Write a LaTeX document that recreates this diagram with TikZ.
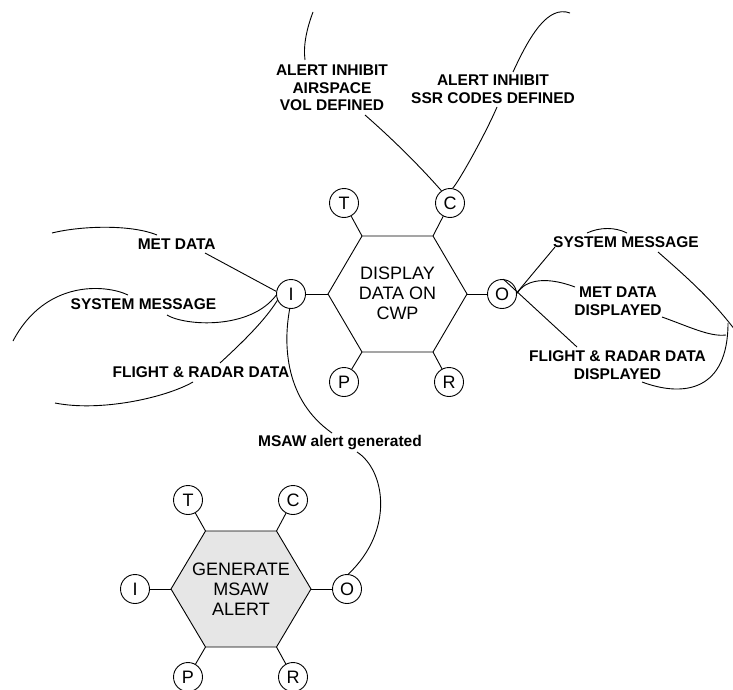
\documentclass[tikz,border=0pt]{standalone}
\usepackage{fontspec}
\setmainfont{Liberation Sans}
\definecolor{hexfill}{RGB}{230,230,230}
\begin{document}
\begin{tikzpicture}[x=1pt,y=-1pt,
  ln/.style={line width=0.9pt},
  circ/.style={circle,draw,line width=0.9pt,minimum size=29pt,inner sep=0pt,font=\fontsize{18}{20}\selectfont},
  hexline/.style={draw,line width=0.9pt},
  hextxt/.style={align=center,inner sep=0pt,font=\fontsize{18}{20}\selectfont},
  lbl/.style={align=center,inner sep=0pt,font=\fontsize{15.5}{17.5}\selectfont\bfseries}]
\clip (0,0) rectangle (733,690);
\fill[white] (0,0) rectangle (733,690);

% ---------- top hexagon ----------
\coordinate (h1l) at (328,294);
\coordinate (h1tl) at (362,236);
\coordinate (h1tr) at (433,236);
\coordinate (h1r) at (467,294);
\coordinate (h1br) at (433,352);
\coordinate (h1bl) at (362,352);
\draw[hexline] (h1l) -- (h1tl) -- (h1tr) -- (h1r) -- (h1br) -- (h1bl) -- cycle;
\node[hextxt] (h1) at (397.5,293) {DISPLAY\\DATA ON\\CWP};

\node[circ] (t1) at (344,203) {T};
\node[circ] (c1) at (450,203) {C};
\node[circ] (i1) at (291,294) {I};
\node[circ] (o1) at (502,294) {O};
\node[circ] (p1) at (344,382) {P};
\node[circ] (r1) at (449,382) {R};
\draw[ln] (t1) -- (h1tl);
\draw[ln] (c1) -- (h1tr);
\draw[ln] (i1) -- (h1l);
\draw[ln] (o1) -- (h1r);
\draw[ln] (p1) -- (h1bl);
\draw[ln] (r1) -- (h1br);

% ---------- bottom hexagon ----------
\coordinate (h2l) at (171,589);
\coordinate (h2tl) at (205.5,531);
\coordinate (h2tr) at (276.5,531);
\coordinate (h2r) at (311,589);
\coordinate (h2br) at (276.5,647);
\coordinate (h2bl) at (205.5,647);
\draw[hexline,fill=hexfill] (h2l) -- (h2tl) -- (h2tr) -- (h2r) -- (h2br) -- (h2bl) -- cycle;
\node[hextxt] (h2) at (241,589) {GENERATE\\MSAW\\ALERT};

\node[circ] (t2) at (188,500) {T};
\node[circ] (c2) at (293,500) {C};
\node[circ] (i2) at (135,589) {I};
\node[circ] (o2) at (347,589) {O};
\node[circ] (p2) at (188,677) {P};
\node[circ] (r2) at (293,677) {R};
\draw[ln] (t2) -- (h2tl);
\draw[ln] (c2) -- (h2tr);
\draw[ln] (i2) -- (h2l);
\draw[ln] (o2) -- (h2r);
\draw[ln] (p2) -- (h2bl);
\draw[ln] (r2) -- (h2br);

% ---------- labels ----------
\node[lbl] (laav) at (332,88) {ALERT INHIBIT\\AIRSPACE\\VOL DEFINED};
\node[lbl] (lssr) at (493,89) {ALERT INHIBIT\\SSR CODES DEFINED};
\node[lbl] (lmet) at (176.7,244) {MET DATA};
\node[lbl] (lsysl) at (143.5,304) {SYSTEM MESSAGE};
\node[lbl] (lfrl) at (201,372) {FLIGHT \& RADAR DATA};
\node[lbl] (lsysr) at (626,242) {SYSTEM MESSAGE};
\node[lbl] (lmetd) at (618,301) {MET DATA\\DISPLAYED};
\node[lbl] (lfrd) at (617.5,365) {FLIGHT \& RADAR DATA\\DISPLAYED};
\node[lbl] (lmsaw) at (340,443) {MSAW alert generated};

% ---------- free ends ----------
\coordinate (aavb) at (365,115);
\coordinate (aavt1) at (305,60);
\coordinate (aavt2) at (313,12);
\coordinate (ssrb) at (497,107);
\coordinate (ssrt1) at (513,72);
\coordinate (ssrt2) at (570,13);
\coordinate (metr) at (205,253);
\coordinate (meta1) at (52,233);
\coordinate (meta2) at (157,235);
\coordinate (sysl1) at (167,315);
\coordinate (sysa1) at (128,295);
\coordinate (sysa2) at (13,341);
\coordinate (frl1) at (220,363);
\coordinate (frl2) at (193,382);
\coordinate (frl3) at (55,403);
\coordinate (msaw1) at (332,433);
\coordinate (msaw2) at (357,452);
\coordinate (sysr1) at (555,247);
\coordinate (sysr2) at (587,233);
\coordinate (sysr3) at (627,233);
\coordinate (sysr4) at (658,252);
\coordinate (sysr5) at (735,330);
\coordinate (metd1) at (575,287);
\coordinate (metd2) at (662,317);
\coordinate (metd3) at (726,335);
\coordinate (frd1) at (577,347);
\coordinate (frd2) at (642,382);
\coordinate (frd3) at (728,323);

% ---------- connectors ----------
% C top
\draw[ln] (c1.125) .. controls (432,180) and (405,150) .. (aavb);
\draw[ln] (aavt1) .. controls (303,45) and (307,28) .. (aavt2);
\draw[ln] (c1.80) .. controls (458,183) and (485,135) .. (ssrb);
\draw[ln] (ssrt1) .. controls (530,35) and (548,5) .. (ssrt2);
% I left
\draw[ln] (i1.170) -- (metr);
\draw[ln] (meta1) .. controls (80,226) and (130,224) .. (meta2);
\draw[ln] (sysl1) .. controls (185,326) and (250,330) .. (i1.185);
\draw[ln] (sysa1) .. controls (105,284) and (45,280) .. (sysa2);
\draw[ln] (frl1) .. controls (245,340) and (265,320) .. (i1.205);
\draw[ln] (frl2) .. controls (165,398) and (100,412) .. (frl3);
\draw[ln] (i1.265) .. controls (283,345) and (285,400) .. (msaw1);
\draw[ln] (msaw2) .. controls (385,470) and (395,530) .. (o2.85);
% O right
\draw[ln] (o1.5) -- (sysr1);
\draw[ln] (sysr2) .. controls (600,227) and (615,227) .. (sysr3);
\draw[ln] (sysr4) .. controls (690,280) and (712,300) .. (sysr5);
\draw[ln] (o1.2) .. controls (523,283) and (540,274) .. (metd1);
\draw[ln] (metd2) .. controls (690,327) and (710,337) .. (metd3);
\draw[ln] (o1.85) -- (frd1);
\draw[ln] (frd2) .. controls (685,398) and (728,390) .. (frd3);
\end{tikzpicture}
\end{document}
